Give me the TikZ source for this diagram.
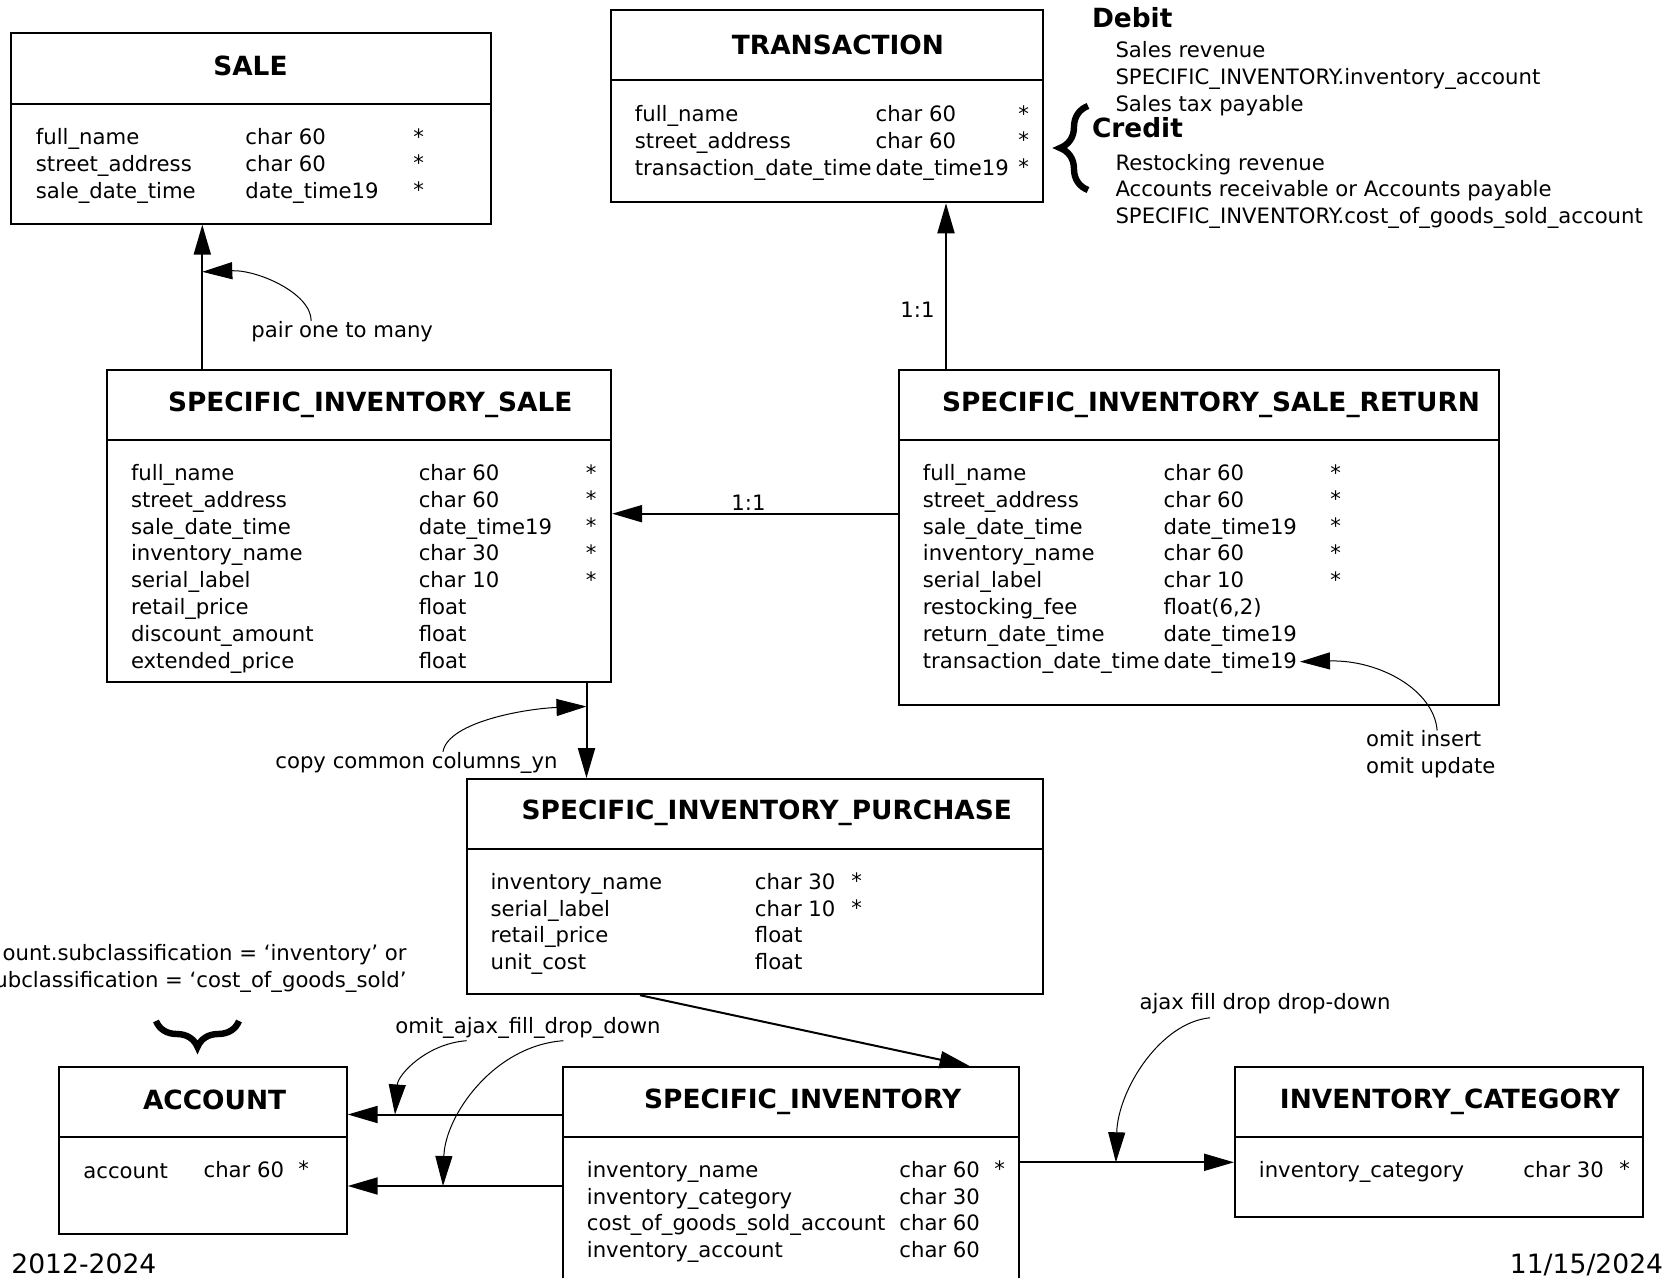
\documentclass[tikz,border=0pt]{standalone}
\usepackage{fontspec}
\setmainfont{DejaVu Sans}
\usetikzlibrary{arrows.meta,fit,decorations.pathreplacing}

\begin{document}
\begin{tikzpicture}[x=0.5pt,y=-0.5pt]
    \tikzstyle{tbl}=[draw, line width=1pt, inner sep=0pt]
    \tikzstyle{head}=[font=\fontsize{13.2}{16}\selectfont\bfseries, anchor=base, inner sep=0pt]
    \tikzstyle{cols}=[font=\fontsize{10.6}{13.4}\selectfont, align=left, anchor=north west, inner sep=0pt]
    \tikzstyle{lbl}=[font=\fontsize{10.6}{13.4}\selectfont, anchor=base west, inner sep=0pt]
    \tikzstyle{foot}=[font=\fontsize{13.3}{16}\selectfont, inner sep=0pt]
    \tikzstyle{conn}=[line width=1pt, -{Triangle[length=15pt, width=8.5pt]}]
    \tikzstyle{note}=[line width=0.5pt, -{Triangle[length=15pt, width=8.5pt]}]
    \tikzstyle{brace}=[decorate, line width=3.2pt, decoration={brace, amplitude=14pt}]

    \useasboundingbox[fill=white] (0,0) rectangle (1678,1278);

    \node[tbl, fit={(10.7,33.2) (491.2,223.7)}] (sale) {};
    \draw[line width=1pt] (sale.north west) ++(0,71.7) -- +(480.5,0);
    \node[head] (saleT) at (250.4,76) {SALE};
    \node[cols] (saleN) at (35.5,128) {full\_name\\street\_address\\sale\_date\_time};
    \node[cols] (saleD) at (245,128) {char 60\\char 60\\date\_time19};
    \node[cols] (saleK) at (413,128) {*\\*\\*};

    \node[tbl, fit={(611.1,9.6) (1043.4,202.3)}] (trans) {};
    \draw[line width=1pt] (trans.north west) ++(0,71.7) -- +(432.3,0);
    \node[head] (transT) at (838,55) {TRANSACTION};
    \node[cols] (transN) at (634.5,105) {full\_name\\street\_address\\transaction\_date\_time};
    \node[cols] (transD) at (875.2,105) {char 60\\char 60\\date\_time19};
    \node[cols] (transK) at (1018,105) {*\\*\\*};

    \node[head, anchor=base west] (debit) at (1091.6,27.5) {Debit};
    \node[cols] (debitL) at (1115.1,41.2) {Sales revenue\\SPECIFIC\_INVENTORY.inventory\_account\\Sales tax payable};
    \node[head, anchor=base west] (credit) at (1091.6,138) {Credit};
    \node[cols] (creditL) at (1115.1,153.6) {Restocking revenue\\Accounts receivable or Accounts payable\\SPECIFIC\_INVENTORY.cost\_of\_goods\_sold\_account};
    \draw[brace] (1088,190) -- (1088,106);

    \node[tbl, fit={(107,370.3) (611.1,681.7)}] (sis) {};
    \draw[line width=1pt] (sis.north west) ++(0,70.6) -- +(504.1,0);
    \node[head] (sisT) at (370.3,412) {SPECIFIC\_INVENTORY\_SALE};
    \node[cols] (sisN) at (130.6,464) {full\_name\\street\_address\\sale\_date\_time\\inventory\_name\\serial\_label\\retail\_price\\discount\_amount\\extended\_price};
    \node[cols] (sisD) at (418.4,464) {char 60\\char 60\\date\_time19\\char 30\\char 10\\float\\float\\float};
    \node[cols] (sisK) at (585.5,464) {*\\*\\*\\*\\*};

    \node[tbl, fit={(899,370.3) (1499.4,705.3)}] (sisr) {};
    \draw[line width=1pt] (sisr.north west) ++(0,70.6) -- +(600.4,0);
    \node[head] (sisrT) at (1211,412) {SPECIFIC\_INVENTORY\_SALE\_RETURN};
    \node[cols] (sisrN) at (922.5,464) {full\_name\\street\_address\\sale\_date\_time\\inventory\_name\\serial\_label\\restocking\_fee\\return\_date\_time\\transaction\_date\_time};
    \node[cols] (sisrD) at (1163.3,464) {char 60\\char 60\\date\_time19\\char 60\\char 10\\float(6,2)\\date\_time19\\date\_time19};
    \node[cols] (sisrK) at (1330,464) {*\\*\\*\\*\\*};

    \node[tbl, fit={(466.6,779.1) (1043.4,994.2)}] (sip) {};
    \draw[line width=1pt] (sip.north west) ++(0,70.6) -- +(576.8,0);
    \node[head] (sipT) at (766.8,819.8) {SPECIFIC\_INVENTORY\_PURCHASE};
    \node[cols] (sipN) at (490.2,872.8) {inventory\_name\\serial\_label\\retail\_price\\unit\_cost};
    \node[cols] (sipD) at (754.5,872.8) {char 30\\char 10\\float\\float};
    \node[cols] (sipK) at (851,872.8) {*\\*};

    \node[tbl, fit={(563,1067) (1018.8,1282)}] (si) {};
    \draw[line width=1pt] (si.north west) ++(0,70.6) -- +(455.8,0);
    \node[head] (siT) at (802.7,1108.7) {SPECIFIC\_INVENTORY};
    \node[cols] (siN) at (586.5,1160.7) {inventory\_name\\inventory\_category\\cost\_of\_goods\_sold\_account\\inventory\_account};
    \node[cols] (siD) at (899,1160.7) {char 60\\char 30\\char 60\\char 60};
    \node[cols] (siK) at (994,1160.7) {*};

    \node[tbl, fit={(58.9,1067) (346.7,1234)}] (acc) {};
    \draw[line width=1pt] (acc.north west) ++(0,70.6) -- +(287.8,0);
    \node[head] (accT) at (214.6,1109.7) {ACCOUNT};
    \node[cols] (accN) at (83,1163.1) {account};
    \node[cols] (accD) at (203.2,1160.7) {char 60};
    \node[cols] (accK) at (298,1160.7) {*};
    \node[lbl, anchor=base east, align=right] (subT) at (407,987.5) {ount.subclassification = ‘inventory’ or\\ubclassification = ‘cost\_of\_goods\_sold’};
    \draw[brace, decoration={amplitude=13pt}] (239,1021) -- (156,1021);

    \node[tbl, fit={(1235,1067) (1642.8,1216.8)}] (cat) {};
    \draw[line width=1pt] (cat.north west) ++(0,70.6) -- +(407.8,0);
    \node[head] (catT) at (1450,1108.5) {INVENTORY\_CATEGORY};
    \node[cols] (catN) at (1258.5,1160.7) {inventory\_category};
    \node[cols] (catD) at (1523,1160.7) {char 30};
    \node[cols] (catK) at (1619,1160.7) {*};

    \coordinate (pairX) at (202.3,0);
    \coordinate (retX) at (946,0);
    \coordinate (retY) at (0,513.7);
    \coordinate (copyX) at (586.5,0);
    \coordinate (sipA) at (640,0);
    \coordinate (siA) at (969.6,0);
    \coordinate (accY1) at (0,1114.5);
    \coordinate (accY2) at (0,1186);
    \coordinate (catY) at (0,1162.3);

    \draw[conn] (sis.north -| pairX) -- (sale.south -| pairX);
    \draw[conn] (sisr.north -| retX) -- (trans.south -| retX);
    \draw[conn] (sisr.west |- retY) -- (sis.east |- retY);
    \draw[conn] (sis.south -| copyX) -- (sip.north -| copyX);
    \draw[conn] (sip.south -| sipA) -- (si.north -| siA);
    \draw[conn] (si.west |- accY1) -- (acc.east |- accY1);
    \draw[conn] (si.west |- accY2) -- (acc.east |- accY2);
    \draw[conn] (si.east |- catY) -- (cat.west |- catY);

    \node[lbl] (pairT) at (251,337.5) {pair one to many};
    \node[lbl] (oneA) at (900,317.5) {1:1};
    \node[lbl] (oneB) at (731,510.6) {1:1};
    \node[lbl] (copyT) at (275,768.3) {copy common columns\_yn};
    \node[lbl, align=left] (omitT) at (1365.7,773.8) {omit insert\\omit update};
    \node[lbl] (ajaxT) at (395,1033.3) {omit\_ajax\_fill\_drop\_down};
    \node[lbl] (fillT) at (1139.2,1009) {ajax fill drop drop-down};

    \coordinate (pairTip) at (202.3,271.8);
    \coordinate (copyTip) at (586.5,706.5);
    \coordinate (omitTip) at (1300,661.7);
    \coordinate (ajaxTip1) at (395,1114.5);
    \coordinate (ajaxTip2) at (443,1186);
    \coordinate (fillTip) at (1115.9,1162.3);

    \draw[note] ([xshift=-15.5pt]pairT.north) .. controls +(0,-28) and +(55,-2) .. (pairTip);
    \draw[note] ([xshift=13.25pt]copyT.north) .. controls +(5,-30) and +(-60,2) .. (copyTip);
    \draw[note] ([xshift=3.2pt]omitT.north) .. controls +(-3,-40) and +(80,-2) .. (omitTip);
    \draw[note] ([xshift=-30.7pt, yshift=-1pt]ajaxT.south) .. controls +(-40,3) and +(3,-40) .. (ajaxTip1);
    \draw[note] ([xshift=17.75pt, yshift=-1pt]ajaxT.south) .. controls +(-70,5) and +(2,-70) .. (ajaxTip2);
    \draw[note] ([xshift=-27.6pt, yshift=-2pt]fillT.south) .. controls +(-50,5) and +(2,-72) .. (fillTip);

    \node[foot, anchor=base west] (yrs) at (11,1273) {2012-2024};
    \node[foot, anchor=base east] (stamp) at (1663.6,1273) {11/15/2024};
\end{tikzpicture}
\end{document}
